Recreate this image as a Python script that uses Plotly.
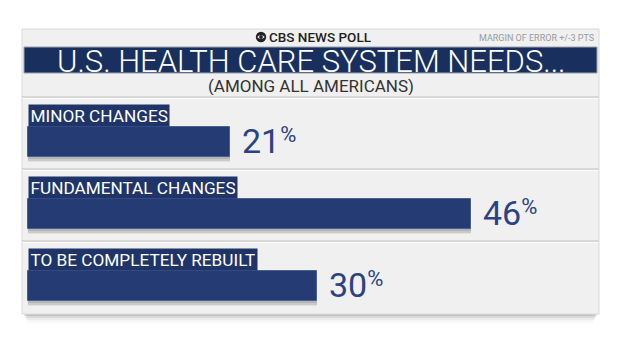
import plotly.graph_objects as go

# Poll results
categories = ["MINOR CHANGES", "FUNDAMENTAL CHANGES", "TO BE COMPLETELY REBUILT"]
values = [21, 46, 30]

title_text = "U.S. HEALTH CARE SYSTEM NEEDS..."
subtitle_text = "(AMONG ALL AMERICANS)"
brand_text = "CBS NEWS POLL"
moe_text = "MARGIN OF ERROR +/-3 PTS"

W, H = 620, 349
NAVY = "#243b74"
LABEL_BG = "#1f3569"
BANNER = "#19305f"
VALUE_COLOR = "#2b4283"
NUM_FONT = "Roboto, sans-serif"
TXT_FONT = "Roboto, Noto Sans, sans-serif"


def px(x):
    return x / W


def py(y):
    return 1 - y / H


fig = go.Figure()

# soft drop shadows under the bars
for op, off in [(0.06, 5), (0.10, 3.5), (0.10, 2)]:
    fig.add_trace(go.Bar(
        y=categories, x=values, orientation="h", width=0.42,
        offset=-0.21 + off / 72.0,
        marker=dict(color=f"rgba(0,0,0,{op})", line=dict(width=0)),
        hoverinfo="skip", showlegend=False,
    ))

fig.add_trace(go.Bar(
    y=categories, x=values, orientation="h", width=0.42, offset=-0.21,
    marker=dict(color=NAVY, line=dict(color="#4a5f92", width=1)),
    hoverinfo="skip", showlegend=False,
))

shapes = []
# panel shadow
for i, op in enumerate([0.10, 0.07, 0.045, 0.025, 0.012]):
    shapes.append(dict(type="rect", xref="paper", yref="paper",
                       x0=px(24 + i), x1=px(597 - i), y0=py(314 + 2 * i + 2), y1=py(312),
                       fillcolor=f"rgba(0,0,0,{op})", line=dict(width=0), layer="below"))
# panel
shapes.append(dict(type="rect", xref="paper", yref="paper",
                   x0=px(22), x1=px(599), y0=py(314), y1=py(29),
                   fillcolor="#f0f0f0", line=dict(color="#dadada", width=1), layer="below"))
# title banner
shapes.append(dict(type="rect", xref="paper", yref="paper",
                   x0=px(24), x1=px(597), y0=py(73), y1=py(47),
                   fillcolor=BANNER, line=dict(color="#9aa0aa", width=1), layer="below"))
# section separators
for ys in [97, 169, 241]:
    shapes.append(dict(type="line", xref="paper", yref="paper",
                       x0=px(22), x1=px(599), y0=py(ys), y1=py(ys),
                       line=dict(color="#cfcfcf", width=1.5), layer="below"))
    shapes.append(dict(type="line", xref="paper", yref="paper",
                       x0=px(22), x1=px(599), y0=py(ys + 1.5), y1=py(ys + 1.5),
                       line=dict(color="#fafafa", width=1), layer="below"))
# CBS eye mark
shapes.append(dict(type="circle", xref="paper", yref="paper",
                   x0=px(255.8), x1=px(266.2), y0=py(42.2), y1=py(31.8),
                   fillcolor="#222222", line=dict(width=0)))
shapes.append(dict(type="path", xref="paper", yref="paper",
                   path=f"M {px(257.2)} {py(37)} Q {px(261)} {py(32.8)} {px(264.8)} {py(37)} "
                        f"Q {px(261)} {py(41.2)} {px(257.2)} {py(37)} Z",
                   fillcolor="#f0f0f0", line=dict(width=0)))
shapes.append(dict(type="circle", xref="paper", yref="paper",
                   x0=px(259.1), x1=px(262.9), y0=py(38.9), y1=py(35.1),
                   fillcolor="#222222", line=dict(width=0)))

annotations = []
annotations.append(dict(text=brand_text, xref="paper", yref="paper",
                        x=px(266.5), y=py(37), xanchor="left", yanchor="middle", height=14,
                        showarrow=False, font=dict(family=TXT_FONT, size=13.5, color="#222222", weight=500)))
annotations.append(dict(text=moe_text, xref="paper", yref="paper",
                        x=px(596), y=py(38), xanchor="right", yanchor="middle", height=12,
                        showarrow=False, font=dict(family=TXT_FONT, size=9, color="#9a9a9a")))
annotations.append(dict(text=title_text, xref="paper", yref="paper",
                        x=px(311), y=py(61), xanchor="center", yanchor="middle", height=26,
                        showarrow=False, font=dict(family=TXT_FONT, size=31, color="white", weight=300)))
annotations.append(dict(text=subtitle_text, xref="paper", yref="paper",
                        x=px(311), y=py(86), xanchor="center", yanchor="middle", height=18,
                        showarrow=False, font=dict(family=TXT_FONT, size=17, color="#333333")))

for cat, val in zip(categories, values):
    # category tag above each bar
    annotations.append(dict(text=cat, xref="x", yref="y", x=0, y=cat,
                            xanchor="left", yanchor="middle", yshift=27, height=18,
                            showarrow=False, bgcolor=LABEL_BG, borderpad=1.5,
                            font=dict(family=TXT_FONT, size=17.2, color="white")))
    # value with superscript percent sign
    annotations.append(dict(
        text=f"<span style='font-size:34px'>{val}</span><sup><span style='font-size:22px'>%</span></sup>",
        xref="x", yref="y", x=val, y=cat, xanchor="left", yanchor="middle",
        xshift=10, yshift=1, showarrow=False,
        font=dict(family=NUM_FONT, size=26, color=VALUE_COLOR)))

fig.update_layout(
    width=W, height=H,
    margin=dict(l=0, r=0, t=0, b=0),
    paper_bgcolor="white", plot_bgcolor="rgba(0,0,0,0)",
    barmode="overlay", bargap=0,
    xaxis=dict(domain=[0, 1], range=[-28 / 9.62, 592 / 9.62], visible=False, fixedrange=True),
    yaxis=dict(domain=[0, 1], type="category", categoryorder="array", categoryarray=categories,
               range=[(349 - 142) / 72.0, -142 / 72.0], visible=False, fixedrange=True),
    shapes=shapes, annotations=annotations, showlegend=False,
)

fig.write_html("out.html", config={"displayModeBar": False})
